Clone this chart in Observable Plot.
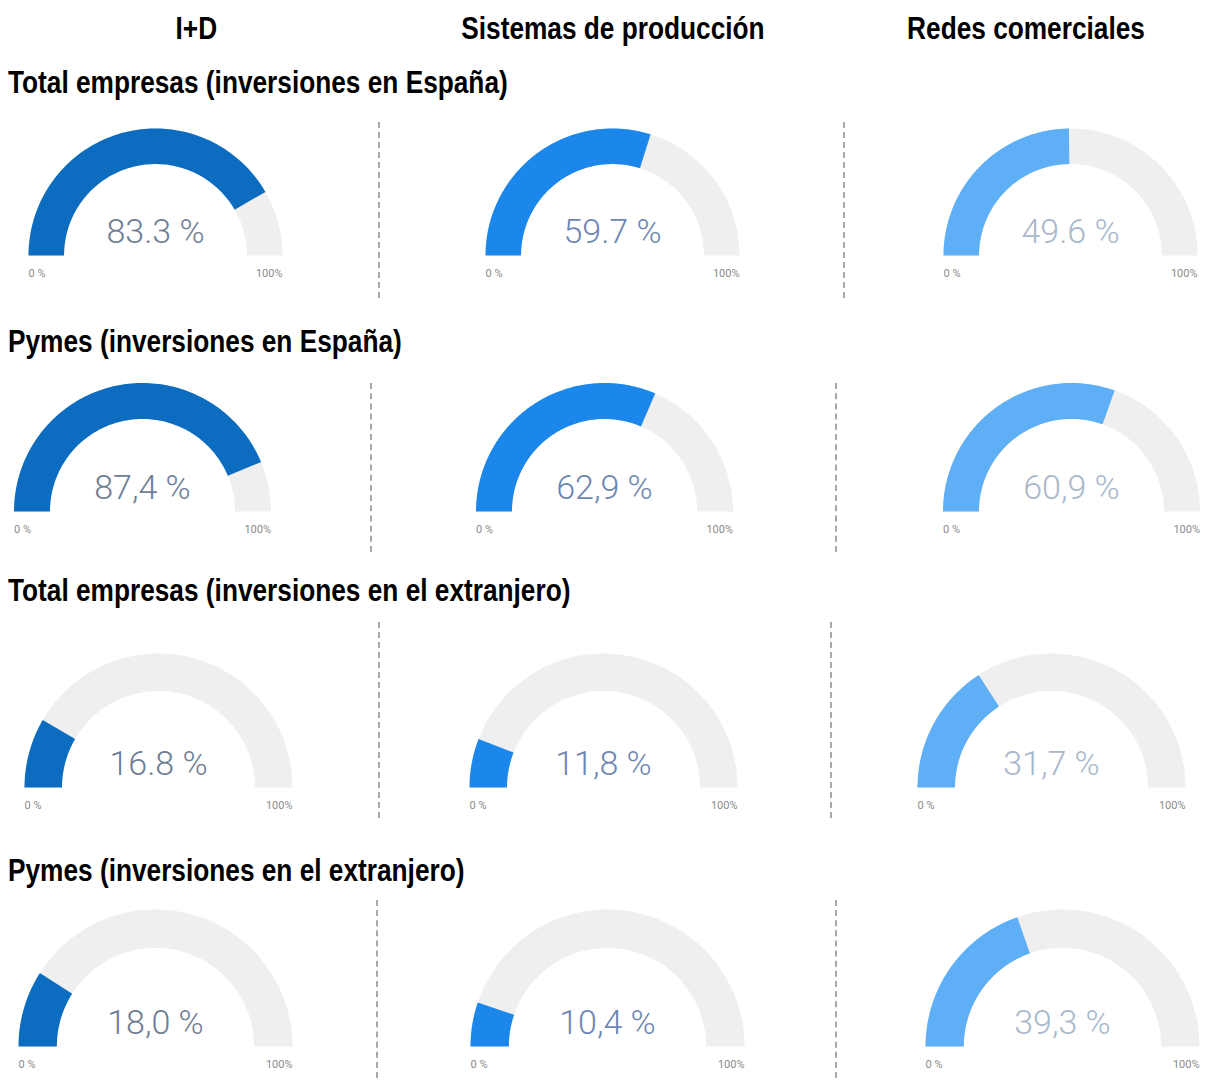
<!DOCTYPE html>
<html><head><meta charset="utf-8">
<script src="https://cdn.jsdelivr.net/npm/d3@7"></script>
<script src="https://cdn.jsdelivr.net/npm/@observablehq/plot@0.6"></script>
<style>
body{margin:0;background:#fff;}
#root{position:relative;width:1209px;height:1080px;overflow:hidden;background:#fff;}
.hd{position:absolute;font-weight:bold;font-size:32px;color:#000;white-space:nowrap;line-height:32px;font-family:"Liberation Sans Narrow","Arial Narrow",sans-serif;}
.sep{position:absolute;width:0;border-left:2px dashed #a8a8a8;}
.g{position:absolute;width:360px;height:200px;}
.g svg{max-width:none !important;}
</style></head><body><div id="root"></div>
<script>
// ---- data ----
const columns = ["I+D", "Sistemas de producción", "Redes comerciales"];
const rowTitles = [
  "Total empresas (inversiones en España)",
  "Pymes (inversiones en España)",
  "Total empresas (inversiones en el extranjero)",
  "Pymes (inversiones en el extranjero)"
];
const idValues = [83.3, 87.4, 16.8, 18.0];
const produccionValues = [59.7, 62.9, 11.8, 10.4];
const redesValues = [49.6, 60.9, 31.7, 39.3];
const idLabels = ["83.3 %", "87,4 %", "16.8 %", "18,0 %"];
const produccionLabels = ["59.7 %", "62,9 %", "11,8 %", "10,4 %"];
const redesLabels = ["49.6 %", "60,9 %", "31,7 %", "39,3 %"];
const gaugeTicks = ["0 %", "100%"];
const gaugeDomain = [0, 100];

// ---- styles / layout ----
const seriesValues = [idValues, produccionValues, redesValues];
const seriesLabels = [idLabels, produccionLabels, redesLabels];
const barColors = ["#0b6cc0", "#1c87ea", "#5eaff5"];
const valueColors = ["#6e7e94", "#6d86b3", "#a8b8ca"];
const trackColor = "#efefef";
const headerCenters = [196, 613, 1026];
const headerY = 28;
const titleY = [82, 341, 590, 870];
const rowCx = [[155, 612, 1070], [142, 604, 1071], [158, 603, 1051], [155, 607, 1062]];
const rowBase = [255, 511, 787, 1046];
const rowScale = [127, 128.5, 134, 137];
const sepX = [[378, 843], [370, 835], [378, 830], [376, 835]];
const sepY = [[122, 298], [383, 552], [622, 818], [900, 1078]];
const innerRatio = 0.72;
const W = 360, H = 200, B = 150;

const root = document.getElementById("root");

function narrowAvailable() {
  const c = document.createElement("canvas").getContext("2d");
  c.font = "bold 32px 'Liberation Sans Narrow', monospace";
  const a = c.measureText("Sistemas de producción").width;
  c.font = "bold 32px monospace";
  const b = c.measureText("Sistemas de producción").width;
  return Math.abs(a - b) > 0.5;
}
const hasNarrow = narrowAvailable();

function addText(txt, left, cy, anchor) {
  const d = document.createElement("div");
  d.className = "hd";
  d.textContent = txt;
  d.style.top = (cy - 16) + "px";
  if (!hasNarrow) {
    d.style.fontFamily = "'Liberation Sans', Arial, sans-serif";
    d.style.transform = "scaleX(0.82)";
    d.style.transformOrigin = anchor === "middle" ? "center" : "left";
  }
  root.appendChild(d);
  if (anchor === "middle") {
    d.style.left = (left - d.offsetWidth / 2) + "px";
  } else d.style.left = left + "px";
}
columns.forEach((c, i) => addText(c, headerCenters[i], headerY, "middle"));
rowTitles.forEach((t, i) => addText(t, 8, titleY[i], "start"));

sepX.forEach((xs, r) => xs.forEach(x => {
  const s = document.createElement("div");
  s.className = "sep";
  s.style.left = x + "px";
  s.style.top = sepY[r][0] + "px";
  s.style.height = (sepY[r][1] - sepY[r][0]) + "px";
  root.appendChild(s);
}));

function arc(v, rIn, rOut, n = 120) {
  const t = (v - gaugeDomain[0]) / (gaugeDomain[1] - gaugeDomain[0]);
  const a0 = Math.PI, a1 = Math.PI * (1 - t);
  const pts = [];
  for (let i = 0; i <= n; i++) { const a = a0 + (a1 - a0) * i / n; pts.push({x: rOut * Math.cos(a), y: rOut * Math.sin(a)}); }
  for (let i = n; i >= 0; i--) { const a = a0 + (a1 - a0) * i / n; pts.push({x: rIn * Math.cos(a), y: rIn * Math.sin(a)}); }
  pts.push(pts[0]);
  return pts;
}

for (let r = 0; r < 4; r++) {
  for (let c = 0; c < 3; c++) {
    const s = rowScale[r];
    const v = seriesValues[c][r];
    const plot = Plot.plot({
      width: W, height: H, margin: 0,
      x: {domain: [-W / 2 / s, W / 2 / s], axis: null},
      y: {domain: [-(H - B) / s, B / s], axis: null},
      style: {background: "transparent", overflow: "visible", maxWidth: "none"},
      marks: [
        Plot.line(arc(gaugeDomain[1], innerRatio, 1), {x: "x", y: "y", fill: trackColor, stroke: "none"}),
        Plot.line(arc(v, innerRatio, 1), {x: "x", y: "y", fill: barColors[c], stroke: "none"}),
        Plot.text([seriesLabels[c][r]], {x: 0, y: 23 / s, text: d => d, fontSize: 34, fill: valueColors[c],
          fontFamily: "Roboto, sans-serif", fontWeight: 300, lineAnchor: "middle"}),
        Plot.text([gaugeTicks[0]], {x: -1, y: -18 / s, text: d => d, textAnchor: "start", fontSize: 11, fill: "#8a8a8a", fontFamily: "Roboto, sans-serif"}),
        Plot.text([gaugeTicks[1]], {x: 1, y: -18 / s, text: d => d, textAnchor: "end", fontSize: 11, fill: "#8a8a8a", fontFamily: "Roboto, sans-serif"})
      ]
    });
    const g = document.createElement("div");
    g.className = "g";
    g.style.left = (rowCx[r][c] - W / 2) + "px";
    g.style.top = (rowBase[r] - B) + "px";
    g.appendChild(plot);
    root.appendChild(g);
  }
}
</script></body></html>
